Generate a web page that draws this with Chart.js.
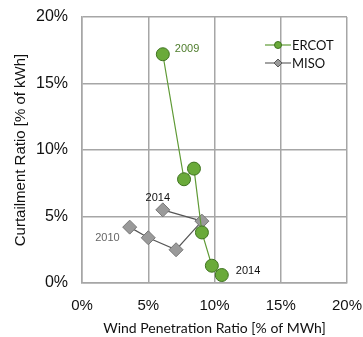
<!DOCTYPE html>
<html lang="en">
<head>
    <meta charset="UTF-8">
    <title>Curtailment vs Wind Penetration</title>
    <script src="https://cdn.jsdelivr.net/npm/chart.js"></script>
    <style>
        html, body { margin: 0; padding: 0; background: #fff; }
        #wrap { width: 363px; height: 337px; }
    </style>
</head>
<body>
    <div id="wrap"><canvas id="chart" width="363" height="337"></canvas></div>

    <script>
        // data: wind penetration (x, %) and curtailment (y, %)
        const ercotYears = ['2009', '2010', '2011', '2012', '2013', '2014'];
        const ercotX = [6.1, 7.7, 8.45, 9.05, 9.8, 10.55];
        const ercotY = [17.2, 7.8, 8.6, 3.8, 1.3, 0.6];

        const misoYears = ['2010', '2011', '2012', '2013', '2014'];
        const misoX = [3.6, 5.0, 7.1, 9.05, 6.1];
        const misoY = [4.2, 3.4, 2.5, 4.65, 5.5];

        const xTicks = [0, 5, 10, 15, 20];
        const yTicks = [0, 5, 10, 15, 20];

        const green = '#6aaa3a';
        const greenDark = '#3f7320';
        const grey = '#9a9a9a';
        const greyDark = '#5a5a5a';

        const toPts = (xs, ys) => xs.map((x, i) => ({ x: x, y: ys[i] }));

        // year labels next to first / last points, legend with line-through-marker
        const extras = {
            id: 'extras',
            afterDraw(chart) {
                const c = chart.ctx;
                const sx = chart.scales.x, sy = chart.scales.y;
                c.save();
                c.font = '11px "Liberation Sans", Arial, sans-serif';
                c.textBaseline = 'middle';

                const label = (txt, xv, yv, dx, dy, col, align) => {
                    c.fillStyle = col;
                    c.textAlign = align;
                    c.fillText(txt, sx.getPixelForValue(xv) + dx, sy.getPixelForValue(yv) + dy);
                };
                label(ercotYears[0], ercotX[0], ercotY[0], 12, -5, '#4e7d2c', 'left');
                label(ercotYears[5], ercotX[5], ercotY[5], 14, -4, '#111', 'left');
                label(misoYears[0], misoX[0], misoY[0], -10, 11, '#666', 'right');
                label(misoYears[4], misoX[4], misoY[4], -5, -12, '#111', 'center');

                // legend
                const lx = 265, ly = [45, 63];
                const items = [
                    { name: 'ERCOT', line: '#5f9a35', fill: green, stroke: greenDark, shape: 'circle' },
                    { name: 'MISO', line: '#666', fill: grey, stroke: greyDark, shape: 'diamond' }
                ];
                items.forEach((it, i) => {
                    const y = ly[i];
                    c.strokeStyle = it.line;
                    c.lineWidth = 1.2;
                    c.beginPath();
                    c.moveTo(lx, y);
                    c.lineTo(lx + 26, y);
                    c.stroke();
                    c.fillStyle = it.fill;
                    c.strokeStyle = it.stroke;
                    c.lineWidth = 1;
                    c.beginPath();
                    if (it.shape === 'circle') {
                        c.arc(lx + 13, y, 3.5, 0, Math.PI * 2);
                    } else {
                        c.moveTo(lx + 13, y - 4);
                        c.lineTo(lx + 17, y);
                        c.lineTo(lx + 13, y + 4);
                        c.lineTo(lx + 9, y);
                        c.closePath();
                    }
                    c.fill();
                    c.stroke();
                    c.fillStyle = '#111';
                    c.textAlign = 'left';
                    c.font = '13px Lato, "Liberation Sans", sans-serif';
                    c.fillText(it.name, lx + 27, y + 1);
                });
                c.restore();
            }
        };

        const ctx = document.getElementById('chart').getContext('2d');
        new Chart(ctx, {
            type: 'scatter',
            data: {
                datasets: [
                    {
                        label: 'ERCOT',
                        data: toPts(ercotX, ercotY),
                        showLine: true,
                        borderColor: '#5f9a35',
                        borderWidth: 1.2,
                        pointRadius: 6.5,
                        pointBackgroundColor: green,
                        pointBorderColor: greenDark,
                        pointBorderWidth: 1
                    },
                    {
                        label: 'MISO',
                        data: toPts(misoX, misoY),
                        showLine: true,
                        borderColor: '#555',
                        borderWidth: 1.2,
                        pointStyle: 'rectRot',
                        pointRadius: 7,
                        pointBackgroundColor: grey,
                        pointBorderColor: '#777',
                        pointBorderWidth: 1
                    }
                ]
            },
            options: {
                responsive: false,
                animation: false,
                layout: { padding: { top: 17, right: 16, left: 0, bottom: 0 } },
                plugins: {
                    legend: { display: false },
                    tooltip: { enabled: false }
                },
                scales: {
                    x: {
                        type: 'linear',
                        min: 0,
                        max: 20,
                        afterBuildTicks: (ax) => { ax.ticks = xTicks.map(v => ({ value: v })); },
                        afterFit: (ax) => {
                            ax.height = 54;
                            ax.paddingLeft = 0;
                            ax.paddingRight = 0;
                        },
                        grid: { color: '#a6a6a6', lineWidth: 1.5, drawTicks: false },
                        border: { color: '#a6a6a6', width: 1.5 },
                        ticks: {
                            padding: 14,
                            color: '#111',
                            font: { family: '"Liberation Sans", Arial, sans-serif', size: 15 },
                            callback: v => v + '%'
                        },
                        title: {
                            display: true,
                            text: 'Wind Penetration Ratio [% of MWh]',
                            color: '#111',
                            font: { family: 'Lato, "Liberation Sans", sans-serif', size: 14 },
                            padding: { top: 1, bottom: 0 }
                        }
                    },
                    y: {
                        type: 'linear',
                        min: 0,
                        max: 20,
                        afterBuildTicks: (ax) => { ax.ticks = yTicks.map(v => ({ value: v })); },
                        afterFit: (ax) => {
                            ax.width = 82;
                            ax.paddingTop = 0;
                            ax.paddingBottom = 0;
                        },
                        grid: { color: '#a6a6a6', lineWidth: 1.5, drawTicks: false },
                        border: { color: '#a6a6a6', width: 1.5 },
                        ticks: {
                            padding: 14,
                            color: '#111',
                            font: { family: '"Liberation Sans", Arial, sans-serif', size: 16 },
                            callback: v => v + '%'
                        },
                        title: {
                            display: true,
                            text: 'Curtailment Ratio [% of kWh]',
                            color: '#111',
                            font: { family: '"Liberation Sans", Arial, sans-serif', size: 15 },
                            padding: { top: 12, bottom: 0 }
                        }
                    }
                }
            },
            plugins: [extras]
        });
    </script>
</body>
</html>
